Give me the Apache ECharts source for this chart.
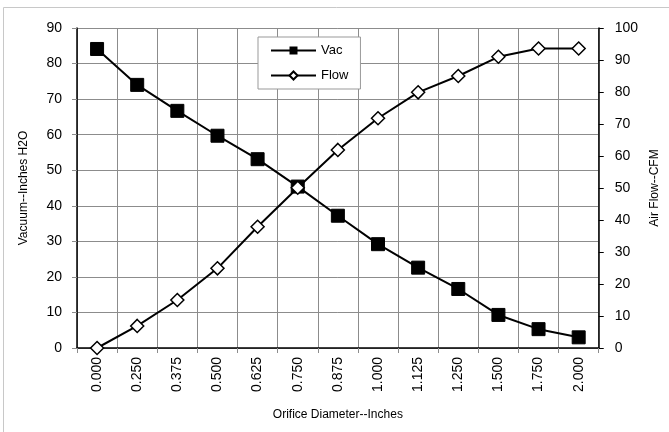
<!DOCTYPE html>
<html>
<head>
<meta charset="utf-8">
<script src="https://cdn.jsdelivr.net/npm/echarts@6/dist/echarts.min.js"></script>
<style>
html,body{margin:0;padding:0;background:#fff;}
#chart{width:669px;height:432px;}
</style>
</head>
<body>
<div id="chart"></div>
<script>
const categories = ['0.000','0.250','0.375','0.500','0.625','0.750','0.875','1.000','1.125','1.250','1.500','1.750','2.000'];
const vac = [84.1, 74.0, 66.7, 59.7, 53.1, 45.4, 37.2, 29.2, 22.6, 16.6, 9.3, 5.3, 3.0];
const flow = [0, 6.9, 15.0, 24.9, 37.9, 50.1, 61.9, 71.8, 79.9, 85.0, 91.0, 93.6, 93.6];
const xTitle = 'Orifice Diameter--Inches';
const yLeftTitle = 'Vacuum--Inches H2O';
const yRightTitle = 'Air Flow--CFM';

const FONT = '"Liberation Sans", Arial, sans-serif';
const chart = echarts.init(document.getElementById('chart'), null, {renderer: 'canvas'});
const option = {
  backgroundColor: '#fff',
  animation: false,
  textStyle: {fontFamily: FONT, color: '#000'},
  graphic: [{
    type: 'rect', shape: {x: 3.5, y: 7.5, width: 700, height: 460},
    style: {fill: 'none', stroke: '#c8c8c8', lineWidth: 1}, silent: true, z: -1
  }],
  grid: {left: 77, right: 65, top: 28, bottom: 84, containLabel: false},
  legend: {
    left: 258, top: 37, orient: 'vertical',
    backgroundColor: '#fff', borderColor: '#999', borderWidth: 1,
    padding: [7, 12, 7, 12], itemWidth: 45, itemHeight: 10, itemGap: 12,
    textStyle: {fontFamily: FONT, fontSize: 13, color: '#000', padding: [0, 0, 0, 0]},
    data: ['Vac', 'Flow']
  },
  xAxis: {
    type: 'category', data: categories, boundaryGap: true,
    name: xTitle, nameLocation: 'middle', nameGap: 61,
    nameTextStyle: {fontFamily: FONT, fontSize: 12, color: '#000'},
    axisLine: {lineStyle: {color: '#000', width: 1.5}},
    axisTick: {show: true, length: 5, inside: false, lineStyle: {color: '#8c8c8c'}},
    axisLabel: {rotate: 90, margin: 9, fontFamily: FONT, fontSize: 14, color: '#000', interval: 0},
    splitLine: {show: true, lineStyle: {color: '#8c8c8c', width: 1}}
  },
  yAxis: [{
    type: 'value', min: 0, max: 90, interval: 10, position: 'left',
    name: yLeftTitle, nameLocation: 'middle', nameGap: 47, nameRotate: 90,
    nameTextStyle: {fontFamily: FONT, fontSize: 12, color: '#000'},
    axisLine: {show: true, lineStyle: {color: '#000', width: 1.5}},
    axisTick: {show: true, length: 5, lineStyle: {color: '#8c8c8c'}},
    axisLabel: {margin: 15, fontFamily: FONT, fontSize: 14, color: '#000'},
    splitLine: {show: true, lineStyle: {color: '#8c8c8c', width: 1}}
  }, {
    type: 'value', min: 0, max: 100, interval: 10, position: 'right',
    name: yRightTitle, nameLocation: 'middle', nameGap: 46, nameRotate: 90,
    nameTextStyle: {fontFamily: FONT, fontSize: 12, color: '#000'},
    axisLine: {show: true, lineStyle: {color: '#000', width: 1.5}},
    axisTick: {show: true, length: 5, lineStyle: {color: '#000'}},
    axisLabel: {margin: 16, fontFamily: FONT, fontSize: 14, color: '#000'},
    splitLine: {show: false}
  }],
  series: [{
    name: 'Vac', type: 'line', yAxisIndex: 0, data: vac,
    symbol: 'rect', symbolSize: 13, showAllSymbol: true,
    itemStyle: {color: '#000', borderColor: '#000'},
    lineStyle: {color: '#000', width: 2},
    z: 2
  }, {
    name: 'Flow', type: 'line', yAxisIndex: 1, data: flow,
    symbol: 'diamond', symbolSize: 13, showAllSymbol: true,
    itemStyle: {color: '#fff', borderColor: '#000', borderWidth: 1.5},
    lineStyle: {color: '#000', width: 2},
    z: 3
  }]
};
chart.setOption(option);
</script>
</body>
</html>
